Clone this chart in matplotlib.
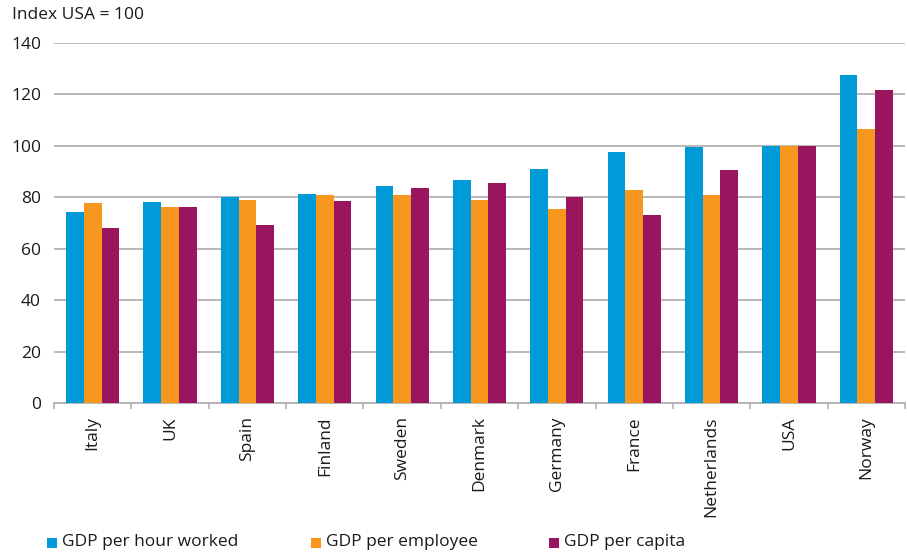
import matplotlib
matplotlib.use("Agg")
import matplotlib.pyplot as plt
import numpy as np
from matplotlib.patches import Rectangle

plt.rcParams['font.family'] = ['Open Sans', 'DejaVu Sans']

countries = ["Italy", "UK", "Spain", "Finland", "Sweden", "Denmark",
             "Germany", "France", "Netherlands", "USA", "Norway"]
per_hour = [74.3, 78.2, 80.2, 81.3, 84.4, 86.8, 91.0, 97.7, 99.6, 100.0, 127.6]
per_employee = [77.8, 76.3, 79.0, 80.9, 80.9, 79.0, 75.5, 82.9, 80.9, 100.0, 106.6]
per_capita = [68.1, 76.3, 69.3, 78.6, 83.7, 85.6, 80.2, 73.2, 90.7, 100.0, 121.7]

series_names = ["GDP per hour worked", "GDP per employee", "GDP per capita"]
colors = ["#009ad8", "#f7971d", "#99155e"]
yticks = [0, 20, 40, 60, 80, 100, 120, 140]

FS = 12.5
TXT = "#1a1a1a"

fig = plt.figure(figsize=(9.07, 5.53), dpi=100)
ax = fig.add_axes([54 / 907, 1 - 403.3 / 553, 851 / 907, 360.3 / 553])

x = np.arange(len(countries))
w = 0.229
for i, (vals, c) in enumerate(zip([per_hour, per_employee, per_capita], colors)):
    ax.bar(x + (i - 1) * w, vals, width=w, color=c, zorder=3, linewidth=0)

ax.set_xlim(-0.5, len(countries) - 0.5)
ax.set_ylim(0, 140)
ax.set_yticks(yticks)
ax.set_yticklabels([str(v) for v in yticks], fontsize=FS, color=TXT)
ax.tick_params(axis="y", length=0, pad=9.4)
ax.yaxis.grid(True, color="#b3b3b3", linewidth=1.3, zorder=0)
ax.set_axisbelow(True)

# category labels, rotated, with small boundary ticks on the baseline
ax.set_xticks(x)
ax.set_xticklabels(countries, rotation=90, fontsize=FS, color=TXT, va="top")
ax.tick_params(axis="x", length=0, pad=9.5)
ax.set_xticks(np.arange(len(countries) + 1) - 0.5, minor=True)
ax.tick_params(axis="x", which="minor", length=4, width=1.2, color="#b3b3b3", direction="out")

for side in ["top", "right", "left"]:
    ax.spines[side].set_visible(False)
ax.spines["bottom"].set_color("#b3b3b3")
ax.spines["bottom"].set_linewidth(1.3)

fig.text(12 / 907, 1 - 15 / 553, "Index USA = 100", fontsize=FS, color=TXT,
         ha="left", va="center")

# legend along the bottom
leg_y = 1 - 542.5 / 553
sq = 10
for name, c, xs in zip(series_names, colors, [47, 311, 549]):
    fig.patches.append(Rectangle((xs / 907, leg_y - sq / 2 / 553), sq / 907, sq / 553,
                                 transform=fig.transFigure, facecolor=c, edgecolor="none"))
    fig.text((xs + sq + 5) / 907, leg_y, name, fontsize=FS, color=TXT,
             ha="left", va="center")

fig.savefig("out.png", dpi=100)
